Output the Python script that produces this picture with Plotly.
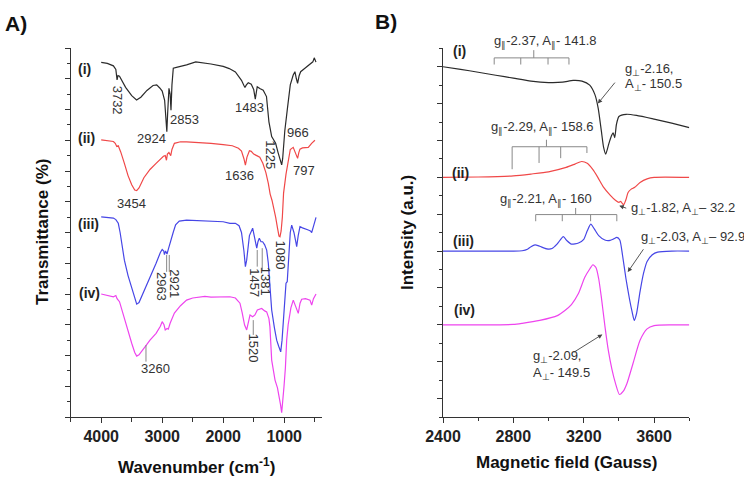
import plotly.graph_objects as go

# ---------------- FTIR data (panel A) ----------------
ftir_i_wn = [4000,3900,3800,3760,3740,3725,3700,3650,3600,3500,3420,3350,3250,3150,3090,3040,3000,2960,2940,2924,2910,2889,2870,2856,2840,2818,2750,2600,2450,2300,2200,2000,1900,1800,1750,1700,1660,1643,1620,1589,1540,1500,1474,1455,1442,1400,1344,1290,1250,1205,1180,1140,1100,1060,1041,1025,1010,990,950,900,852,824,800,780,755,730,660,578,530,507,479]
ftir_i_y  = [11.53,11.50,11.42,11.30,10.96,11.10,11.08,10.90,10.72,10.45,10.31,10.40,10.62,10.78,10.80,10.70,10.60,10.30,9.80,9.28,9.90,10.69,10.50,9.98,10.80,11.34,11.38,11.45,11.55,11.52,11.48,11.40,11.33,11.22,11.10,10.95,10.78,10.72,10.80,10.87,10.82,10.65,10.34,10.55,10.74,10.68,10.63,10.42,9.60,9.12,9.05,8.90,8.60,8.30,8.20,8.40,8.79,9.30,9.98,10.80,11.12,11.23,11.00,10.85,11.10,11.23,11.34,11.46,11.55,11.68,11.54]

ftir_ii_wn = [4000,3900,3800,3770,3745,3720,3680,3620,3560,3500,3450,3418,3380,3300,3200,3100,3020,2980,2950,2930,2915,2890,2860,2840,2800,2700,2600,2400,2200,2000,1850,1750,1700,1660,1636,1610,1570,1540,1500,1450,1400,1350,1300,1260,1230,1200,1170,1140,1110,1085,1069,1050,1030,1010,970,927,900,852,810,780,760,741,700,605,550,496]
ftir_ii_y  = [9.01,8.98,8.96,8.90,8.80,8.82,8.62,8.25,7.85,7.55,7.38,7.36,7.45,7.78,8.05,8.25,8.40,8.48,8.50,8.35,8.55,8.60,8.50,8.70,8.90,8.95,8.95,8.93,8.90,8.86,8.82,8.74,8.65,8.40,8.19,8.45,8.66,8.64,8.55,8.50,8.45,8.25,7.95,7.60,7.25,7.05,6.80,6.50,6.15,5.88,5.86,6.05,6.50,7.28,7.90,8.47,8.70,8.77,8.55,8.41,8.60,8.71,8.75,8.77,8.90,9.00]

ftir_iii_wn = [4000,3900,3800,3760,3720,3690,3660,3620,3560,3500,3450,3418,3380,3300,3200,3100,3030,3000,2975,2963,2945,2921,2900,2860,2820,2780,2720,2600,2400,2200,2000,1889,1800,1740,1700,1660,1636,1615,1570,1517,1480,1450,1430,1408,1380,1353,1320,1287,1260,1244,1220,1205,1160,1123,1090,1057,1035,1014,990,970,950,930,900,877,840,810,795,770,741,700,650,605,570,549,520,490,478]
ftir_iii_y  = [6.51,6.50,6.47,6.42,6.30,6.00,5.60,5.10,4.60,4.20,3.80,3.67,3.72,4.07,4.55,5.00,5.35,5.45,5.40,5.28,5.40,5.30,5.45,5.75,6.00,6.25,6.37,6.40,6.38,6.37,6.35,6.30,6.30,6.22,6.00,5.40,4.89,5.10,5.90,6.14,5.80,5.49,5.70,5.81,5.70,5.70,5.60,5.43,5.00,4.56,3.95,3.48,2.90,2.50,2.30,2.12,2.50,3.05,3.80,4.35,4.40,5.20,6.00,6.24,6.00,5.70,5.54,5.90,6.19,6.15,6.10,6.08,6.05,6.00,6.20,6.45,6.49]

ftir_iv_wn = [4000,3900,3800,3760,3740,3700,3650,3600,3550,3500,3450,3418,3380,3320,3260,3200,3100,3030,3000,2970,2950,2920,2900,2870,2800,2700,2600,2500,2400,2300,2200,2000,1889,1800,1725,1690,1650,1615,1580,1560,1517,1480,1440,1400,1369,1320,1287,1250,1234,1205,1150,1110,1080,1060,1041,1020,1003,980,959,935,916,890,851,810,769,740,713,650,577,549,520,478]
ftir_iv_y  = [4.00,3.95,3.91,3.95,3.85,3.75,3.40,3.05,2.70,2.40,2.10,1.98,2.02,2.20,2.34,2.50,2.72,2.95,3.10,3.00,2.83,2.88,2.86,3.05,3.38,3.62,3.80,3.87,3.89,3.92,3.90,3.92,3.91,3.87,3.70,3.40,3.00,2.83,3.15,3.32,3.26,3.32,3.48,3.50,3.53,3.45,3.42,3.20,2.94,1.85,1.20,0.95,0.66,0.40,0.14,0.55,0.99,1.60,2.50,3.00,3.32,3.55,3.80,3.55,3.37,3.70,3.83,3.85,3.80,3.64,3.85,4.00]

# ---------------- EPR data (panel B) ----------------
epr_i_b = [2400,2500,2600,2700,2800,2900,3000,3080,3140,3190,3234,3263,3282,3300,3313,3325,3342,3357,3367,3376,3386,3400,3442,3500,3600,3700,3800]
epr_i_y = [9.00,8.93,8.85,8.77,8.69,8.61,8.57,8.58,8.63,8.61,8.50,8.25,7.88,7.26,6.81,6.63,6.90,7.12,7.21,7.08,7.44,7.65,7.71,7.68,7.58,7.47,7.35]

epr_ii_b = [2400,2600,2800,2900,3000,3100,3150,3188,3220,3250,3280,3310,3350,3380,3400,3410,3418,3427,3440,3452,3470,3490,3520,3560,3600,3800]
epr_ii_y = [6.00,6.01,6.04,6.09,6.15,6.27,6.36,6.43,6.38,6.22,6.00,5.75,5.52,5.38,5.32,5.35,5.30,5.26,5.40,5.59,5.68,5.73,5.86,5.96,6.00,6.00]

epr_iii_b = [2400,2800,2850,2880,2900,2923,2950,2990,3020,3050,3084,3105,3130,3170,3200,3220,3240,3260,3285,3320,3350,3370,3388,3405,3420,3440,3460,3475,3487,3500,3520,3540,3560,3590,3620,3700,3800]
epr_iii_y = [4.00,4.00,4.01,4.05,4.12,4.17,4.13,4.06,4.07,4.20,4.39,4.28,4.19,4.22,4.32,4.55,4.73,4.60,4.42,4.30,4.29,4.33,4.37,4.30,3.90,3.25,2.70,2.35,2.12,2.30,2.90,3.40,3.72,3.90,3.97,4.00,4.00]

epr_iv_b = [2400,2600,2800,2850,2950,3050,3093,3130,3169,3206,3235,3252,3270,3285,3300,3320,3340,3360,3380,3403,3425,3445,3480,3520,3560,3600,3700,3800]
epr_iv_y = [2.00,2.00,2.01,2.04,2.12,2.25,2.39,2.55,2.84,3.29,3.52,3.63,3.55,3.25,2.75,1.98,1.30,0.80,0.42,0.11,0.20,0.40,0.95,1.58,1.89,1.98,2.00,2.00]

ftir_ticks = [4000, 3000, 2000, 1000]
epr_ticks = [2400, 2800, 3200, 3600]

COL = ["#2b2b2b", "#f04848", "#4646e6", "#ee44ee"]
FONT = "Liberation Sans, Arial, sans-serif"
TXT = "#333333"

fig = go.Figure()
for wn, y, c in [(ftir_i_wn, ftir_i_y, COL[0]), (ftir_ii_wn, ftir_ii_y, COL[1]),
                 (ftir_iii_wn, ftir_iii_y, COL[2]), (ftir_iv_wn, ftir_iv_y, COL[3])]:
    fig.add_trace(go.Scatter(x=wn, y=y, mode="lines", line=dict(color=c, width=1.2),
                             xaxis="x", yaxis="y", showlegend=False, hoverinfo="skip"))
for b, y, c in [(epr_i_b, epr_i_y, COL[0]), (epr_ii_b, epr_ii_y, COL[1]),
                (epr_iii_b, epr_iii_y, COL[2]), (epr_iv_b, epr_iv_y, COL[3])]:
    fig.add_trace(go.Scatter(x=b, y=y, mode="lines", line=dict(color=c, width=1.2, shape="spline", smoothing=0.6),
                             xaxis="x2", yaxis="y2", showlegend=False, hoverinfo="skip"))

W, H = 744, 484
def px(x): return x / W
def py(y): return (H - y) / H

axis_common = dict(showline=True, linecolor="#333", linewidth=1, ticks="outside", tickcolor="#333",
                   showgrid=False, zeroline=False, mirror=False, automargin=False)
fig.update_layout(
    width=W, height=H, margin=dict(l=0, r=0, t=0, b=0, pad=0, autoexpand=False),
    paper_bgcolor="white", plot_bgcolor="white", showlegend=False,
    font=dict(family=FONT, color=TXT),
    xaxis=dict(domain=[px(70.7), px(322)], range=[4500, 380], tickvals=ftir_ticks,
               ticklen=5, tickfont=dict(size=16, weight="bold", color="#222"),
               minor=dict(dtick=500, tick0=0, ticks="outside", ticklen=4, tickcolor="#333"),
               anchor="y", **axis_common),
    yaxis=dict(domain=[py(417), py(48)], range=[0, 12], dtick=1, showticklabels=False, ticklen=5,
               minor=dict(dtick=0.5, ticks="outside", ticklen=3, tickcolor="#333"),
               anchor="x", **axis_common),
    xaxis2=dict(domain=[px(443), px(689.3)], range=[2400, 3800], tickvals=epr_ticks,
                ticklen=5, tickfont=dict(size=16, weight="bold", color="#222"),
                minor=dict(dtick=200, tick0=2400, ticks="outside", ticklen=3, tickcolor="#333"),
                anchor="y2", **axis_common),
    yaxis2=dict(domain=[py(417), py(48.3)], range=[-0.5, 9.5], dtick=1, showticklabels=False, ticklen=5,
                minor=dict(dtick=0.5, ticks="outside", ticklen=3, tickcolor="#333"),
                anchor="x2", **axis_common),
)

ann = []
def paper_text(t, x, y, size, bold=True, angle=0, color="#111", xanchor="center"):
    ann.append(dict(text=t, x=px(x), y=py(y), xref="paper", yref="paper", showarrow=False,
                    font=dict(size=size, weight="bold" if bold else "normal", color=color),
                    textangle=angle, xanchor=xanchor, yanchor="middle"))

paper_text("A)", 16, 23, 21)
paper_text("B)", 386, 22, 21)
paper_text("Transmittance (%)", 43, 232, 17, angle=-90)
paper_text("Intensity (a.u.)", 408, 232, 17, angle=-90)
paper_text("Wavenumber (cm<sup>-1</sup>)", 196, 466, 17)
paper_text("Magnetic field (Gauss)", 566, 462, 17)
paper_text("g<sub>∥</sub>-2.37, A<sub>∥</sub>- 141.8", 545, 41, 13, bold=False, color=TXT)

# series labels
for t, x, y, xr, yr in [("(i)", 4266, 11.32, "x", "y"), ("(ii)", 4241, 9.07, "x", "y"),
                        ("(iii)", 4211, 6.28, "x", "y"), ("(iv)", 4195, 4.02, "x", "y"),
                        ("(i)", 2495, 9.42, "x2", "y2"), ("(ii)", 2500, 6.13, "x2", "y2"),
                        ("(iii)", 2515, 4.28, "x2", "y2"), ("(iv)", 2520, 2.39, "x2", "y2")]:
    ann.append(dict(text=t, x=x, y=y, xref=xr, yref=yr, showarrow=False,
                    font=dict(size=14, weight="bold", color="#222"), xanchor="center", yanchor="middle"))

# FTIR peak labels
ftir_labels = [("3732", 3736, 10.31, 90), ("2924", 3172, 9.06, 0), ("2853", 2638, 9.68, 0),
               ("1483", 1572, 10.07, 0), ("966", 769, 9.25, 0), ("1225", 1221, 8.52, 90),
               ("797", 675, 8.01, 0), ("1636", 1736, 7.85, 0), ("3454", 3500, 6.95, 0),
               ("1080", 1069, 5.25, 90), ("2963", 3008, 4.24, 90), ("2921", 2790, 4.35, 90),
               ("1457", 1479, 4.35, 90), ("1381", 1315, 4.40, 90), ("1520", 1495, 2.23, 90),
               ("3260", 3118, 1.58, 0)]
for t, x, y, a in ftir_labels:
    ann.append(dict(text=t, x=x, y=y, xref="x", yref="y", showarrow=False, textangle=a,
                    font=dict(size=13, color=TXT), xanchor="center", yanchor="middle"))

# EPR texts
epr_texts = [("g<sub>∥</sub>-2.29, A<sub>∥</sub>- 158.6", 2968, 7.35, "center"),
             ("g<sub>∥</sub>-2.21, A<sub>∥</sub>- 160", 2983, 5.41, "center"),
             ("g<sub>⊥</sub>-2.16,", 3421, 8.92, "left"),
             ("A<sub>⊥</sub>- 150.5", 3421, 8.52, "left"),
             ("g<sub>⊥</sub>-1.82, A<sub>⊥</sub>– 32.2", 3455, 5.15, "left"),
             ("g<sub>⊥</sub>-2.03, A<sub>⊥</sub>– 92.9", 3516, 4.36, "left"),
             ("g<sub>⊥</sub>-2.09,", 2900, 1.14, "left"),
             ("A<sub>⊥</sub>- 149.5", 2900, 0.67, "left")]
for t, x, y, xa in epr_texts:
    ann.append(dict(text=t, x=x, y=y, xref="x2", yref="y2", showarrow=False,
                    font=dict(size=13, color=TXT), xanchor=xa, yanchor="middle"))

# EPR arrows (head, tail)
for hx, hy, tx, ty in [(3280, 8.00, 3384, 8.61), (3402, 5.23, 3450, 5.15),
                       (3450, 3.43, 3545, 4.09), (3306, 1.74, 3135, 1.23)]:
    ann.append(dict(text="", x=hx, y=hy, ax=tx, ay=ty, xref="x2", yref="y2", axref="x2", ayref="y2",
                    showarrow=True, arrowhead=2, arrowsize=1.0, arrowwidth=0.9, arrowcolor="#444"))

fig.update_layout(annotations=ann)

shapes = []
def seg(x0, y0, x1, y1, xr, yr):
    shapes.append(dict(type="line", x0=x0, y0=y0, x1=x1, y1=y1, xref=xr, yref=yr,
                       line=dict(color="#888", width=1)))

# FTIR connector lines
seg(2927, 5.27, 2927, 4.72, "x", "y")
seg(2884, 5.27, 2884, 4.72, "x", "y")
seg(1442, 5.43, 1442, 4.89, "x", "y")
seg(1360, 5.49, 1360, 4.78, "x", "y")
seg(1507, 3.15, 1507, 2.67, "x", "y")
seg(3266, 2.34, 3266, 1.80, "x", "y")

# EPR hyperfine brackets
def bracket(xs, ybar, ydrops, xc, ytop):
    seg(xs[0], ybar, xs[-1], ybar, "x2", "y2")
    for x, yd in zip(xs, ydrops):
        seg(x, ybar, x, yd, "x2", "y2")
    seg(xc, ybar, xc, ytop, "x2", "y2")

bracket([2691, 2842, 2997, 3116], 9.24, [9.06, 9.06, 9.06, 9.06], 2916, 9.45)
bracket([2793, 2946, 3069, 3218], 6.83, [6.22, 6.39, 6.52, 6.66], 2988, 7.02)
bracket([2927, 3078, 3239, 3388], 4.99, [4.81, 4.81, 4.81, 4.81], 3154, 5.17)

fig.update_layout(shapes=shapes)
fig.write_html("out.html", config={"displayModeBar": False},
               post_script="document.body.style.margin='0px';")
